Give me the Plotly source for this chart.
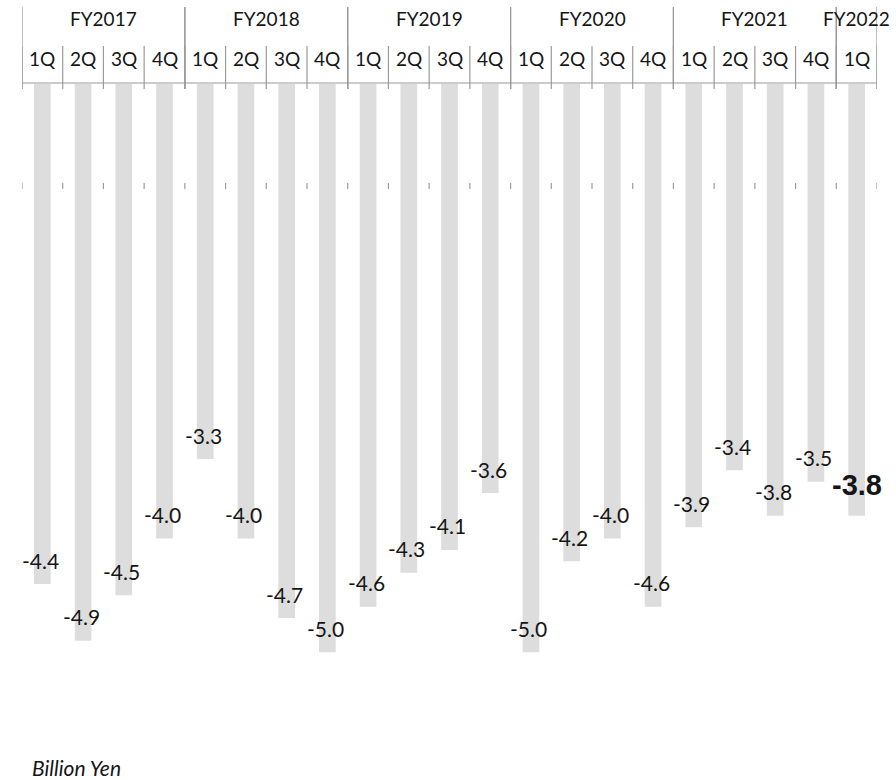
import plotly.graph_objects as go

# Quarterly values (billion yen) grouped by fiscal year
years = ["FY2017", "FY2018", "FY2019", "FY2020", "FY2021", "FY2022"]
quarters_per_year = [4, 4, 4, 4, 4, 1]
quarter_labels = ["1Q", "2Q", "3Q", "4Q"] * 5 + ["1Q"]
values = [
    -4.4, -4.9, -4.5, -4.0,   # FY2017
    -3.3, -4.0, -4.7, -5.0,   # FY2018
    -4.6, -4.3, -4.1, -3.6,   # FY2019
    -5.0, -4.2, -4.0, -4.6,   # FY2020
    -3.9, -3.4, -3.8, -3.5,   # FY2021
    -3.8,                     # FY2022
]
unit_label = "Billion Yen"

FONT = "Lato"
BOLD_FONT = "Liberation Sans"
TEXT = "#151515"
LINE = "#9a9a9a"
BAR = "#dddddd"

W, H = 896, 780
M_L, M_R, M_T = 22, 19, 84
Y_MIN = -5.5
PX_PER_UNIT = 113.7
plot_h = round(-Y_MIN * PX_PER_UNIT)
M_B = H - M_T - plot_h


def py(px):
    """Pixel row (from top of page) -> paper y."""
    return 1 + (M_T - px) / plot_h


n = len(values)
xs = list(range(n))

fig = go.Figure(
    go.Bar(
        x=xs,
        y=values,
        width=0.41,
        marker=dict(color=BAR, line=dict(width=0)),
        hoverinfo="skip",
    )
)

shapes = []
annotations = []

# Header: axis line along the top of the plot
shapes.append(dict(type="line", xref="x", yref="paper", x0=-0.5, x1=n - 0.5,
                   y0=py(83), y1=py(83), line=dict(color=LINE, width=1.2)))

# Quarter separators (every category boundary) and small ticks further down
for b in range(n + 1):
    xb = b - 0.5
    shapes.append(dict(type="line", xref="x", yref="paper", x0=xb, x1=xb,
                       y0=py(46), y1=py(89), line=dict(color=LINE, width=1.2)))
    shapes.append(dict(type="line", xref="x", yref="paper", x0=xb, x1=xb,
                       y0=py(183), y1=py(189), line=dict(color=LINE, width=1.2)))

# Fiscal-year separators and year labels
start = 0
for year, cnt in zip(years, quarters_per_year):
    for xb in (start - 0.5, start + cnt - 0.5):
        shapes.append(dict(type="line", xref="x", yref="paper", x0=xb, x1=xb,
                           y0=py(7), y1=py(89), line=dict(color=LINE, width=1.2)))
    annotations.append(dict(x=start + (cnt - 1) / 2, y=py(19), xref="x", yref="paper",
                            text=year, showarrow=False, yanchor="middle",
                            font=dict(family=FONT, size=19, color=TEXT)))
    start += cnt

# Quarter labels
for i, q in enumerate(quarter_labels):
    annotations.append(dict(x=i, y=py(59), xref="x", yref="paper", text=q,
                            showarrow=False, yanchor="middle",
                            font=dict(family=FONT, size=19, color=TEXT)))

# Value labels near the end of each bar; latest quarter emphasised
for i, v in enumerate(values):
    latest = i == n - 1
    annotations.append(dict(
        x=i, y=v, xref="x", yref="y", text=f"{v:.1f}", showarrow=False,
        yanchor="middle", xshift=0 if latest else -2,
        yshift=31 if latest else 24,
        font=dict(family=BOLD_FONT if latest else FONT, size=29 if latest else 21,
                  color=TEXT, weight="bold" if latest else "normal"),
    ))

annotations.append(dict(x=(30 - M_L) / (W - M_L - M_R), y=py(767), xref="paper", yref="paper",
                        text=f"<i>{unit_label}</i>", showarrow=False, xanchor="left",
                        yanchor="middle", font=dict(family=FONT, size=21, color=TEXT)))

fig.update_layout(
    width=W, height=H,
    margin=dict(l=M_L, r=M_R, t=M_T, b=M_B, pad=0),
    paper_bgcolor="white", plot_bgcolor="white",
    showlegend=False,
    xaxis=dict(range=[-0.5, n - 0.5], visible=False, fixedrange=True),
    yaxis=dict(range=[Y_MIN, 0], visible=False, fixedrange=True),
    shapes=shapes,
    annotations=annotations,
)

fig.write_html("out.html")
